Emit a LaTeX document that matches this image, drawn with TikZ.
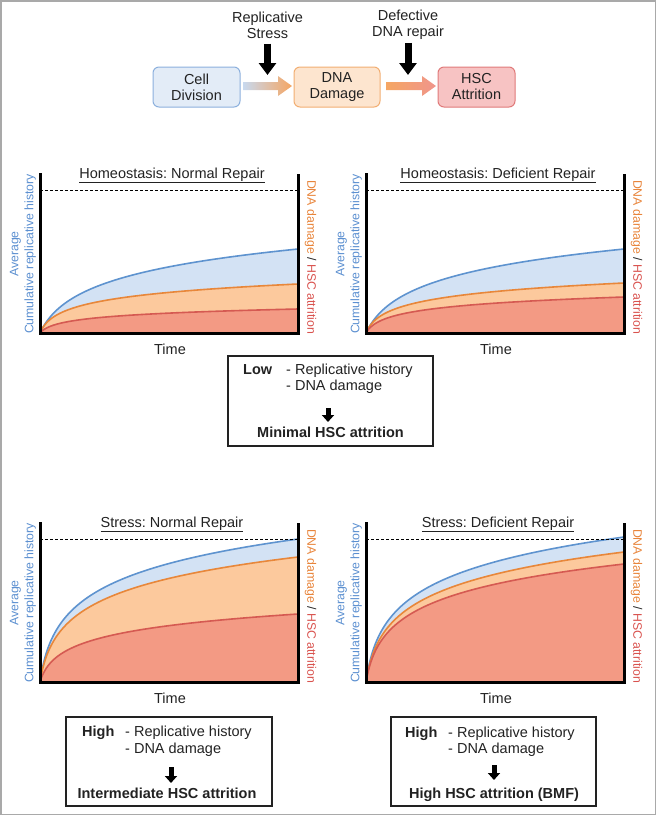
\documentclass[tikz,border=0pt]{standalone}
\usepackage{fontspec}
\setmainfont{Liberation Sans}
\usetikzlibrary{arrows.meta}
\frenchspacing
\definecolor{bline}{HTML}{5E93CF}
\definecolor{bfill}{HTML}{D3E2F4}
\definecolor{oline}{HTML}{E8873A}
\definecolor{ofill}{HTML}{FCC99D}
\definecolor{rline}{HTML}{D55A52}
\definecolor{rfill}{HTML}{F39A84}
\definecolor{txt}{HTML}{222222}
\definecolor{framegray}{HTML}{A9A9A9}
\definecolor{cdfill}{HTML}{E3ECF7}
\definecolor{cddraw}{HTML}{8CB0DD}
\definecolor{ddfill}{HTML}{FDE5CF}
\definecolor{dddraw}{HTML}{F2AE72}
\definecolor{hsfill}{HTML}{F7C3C3}
\definecolor{hsdraw}{HTML}{E07A7A}
\definecolor{ga}{HTML}{C8D9EF}
\definecolor{gb}{HTML}{F5A663}
\definecolor{gc}{HTML}{F0958C}
\definecolor{lblue}{HTML}{5B8FD0}
\definecolor{lorange}{HTML}{E8843A}
\definecolor{lred}{HTML}{D9534F}
\newcommand\myBig{\fontsize{14.5}{16}\selectfont}
\newcommand\mySmall{\fontsize{12.3}{15}\selectfont}
% #1 L, #2 B, #3 name, #4 title, #5 Hb, #6 cb, #7 Ho, #8 Hr
\newcommand\chartpanel[8]{%
  \fill[bfill] (#1,#2) -- plot[domain=0:1,samples=90] ({#1+258*\x*\x},{#2-#5*ln(1+\x*\x/#6)/ln(1+1/#6)}) -- (#1+258,#2) -- cycle;
  \fill[ofill] (#1,#2) -- plot[domain=0:1,samples=90] ({#1+258*\x*\x},{#2-#7*ln(1+\x*\x/0.02)/ln(51)}) -- (#1+258,#2) -- cycle;
  \fill[rfill] (#1,#2) -- plot[domain=0:1,samples=90] ({#1+258*\x*\x},{#2-#8*ln(1+\x*\x/0.02)/ln(51)}) -- (#1+258,#2) -- cycle;
  \draw[curve,bline] plot[domain=0:1,samples=90] ({#1+258*\x*\x},{#2-#5*ln(1+\x*\x/#6)/ln(1+1/#6)});
  \draw[curve,oline] plot[domain=0:1,samples=90] ({#1+258*\x*\x},{#2-#7*ln(1+\x*\x/0.02)/ln(51)});
  \draw[curve,rline] plot[domain=0:1,samples=90] ({#1+258*\x*\x},{#2-#8*ln(1+\x*\x/0.02)/ln(51)});
  \draw[dashline] (#1,#2-143) -- (#1+258,#2-143);
  \draw[axisline] (#1,#2-160) -- (#1,#2) -- (#1+258,#2) -- (#1+258,#2-159);
  \node[titletext,anchor=base] (#3t) at (#1+132,#2-155) {\underline{#4}};
  \node[leftlabel] (#3l) at (#1-17,#2-79) {Average\\Cumulative replicative history};
  \node[rightlabel] (#3r) at (#1+270.5,#2-76) {{\color{lorange}DNA damage} {\color{txt}/} {\color{lred}HSC attrition}};
  \node[titletext] (#3x) at (#1+130,#2+16) {Time};
}
\begin{document}
\begin{tikzpicture}[x=1pt,y=-1pt,
  topbox/.style={rounded corners=6pt, line width=1pt, minimum height=40pt, align=center, inner sep=0pt, font=\myBig, text=txt},
  toplabel/.style={align=center, font=\myBig, inner sep=0pt, text=txt},
  bigdown/.style={line width=7pt, -{Triangle[width=17pt,length=12pt]}},
  smalldown/.style={line width=5pt, -{Triangle[width=12pt,length=7pt]}},
  curve/.style={line width=1.6pt},
  dashline/.style={line width=1pt, dash pattern=on 3pt off 2pt},
  axisline/.style={line width=3pt, line join=miter},
  titletext/.style={font=\myBig, text=txt, inner sep=0pt},
  leftlabel/.style={rotate=90, align=center, font=\mySmall, text=lblue, inner sep=0pt},
  rightlabel/.style={rotate=-90, font=\mySmall, inner sep=0pt},
  sumbox/.style={draw=txt, line width=1.2pt, inner sep=0pt},
  btext/.style={font=\myBig, text=txt, inner sep=0pt, anchor=base west},
  bres/.style={font=\myBig\bfseries, text=txt, inner sep=0pt, anchor=base}
]
\useasboundingbox (0,0) rectangle (656,815);
\draw[framegray, line width=1.5pt] (0.75,0.75) rectangle (655.25,814.25);

% top flow
\node[topbox, fill=cdfill, draw=cddraw, minimum width=87pt] (cd) at (196.5,87) {Cell\\Division};
\node[topbox, fill=ddfill, draw=dddraw, minimum width=86pt] (dd) at (337,87) {DNA\\Damage};
\node[topbox, fill=hsfill, draw=hsdraw, minimum width=77pt] (hs) at (476.5,87) {HSC\\Attrition};
\shade[left color=ga, right color=gb] (243,82) -- (278,82) -- (278,76) -- (292,86) -- (278,96) -- (278,90) -- (243,90) -- cycle;
\shade[left color=gb, right color=gc] (386,82) -- (422,82) -- (422,76) -- (436,86) -- (422,96) -- (422,90) -- (386,90) -- cycle;
\node[toplabel] (rs) at (267.5,25) {Replicative\\Stress};
\node[toplabel] (dr) at (408,25) {Defective\\DNA repair};
\coordinate (rstip) at (267.5,75);
\coordinate (drtip) at (408,75);
\draw[bigdown, shorten <=5pt] (rs.south) -- (rstip);
\draw[bigdown, shorten <=3pt] (dr.south) -- (drtip);

% charts
\chartpanel{40}{333}{ha}{Homeostasis: Normal Repair}{84}{0.05}{49}{24}
\chartpanel{366}{333}{hb}{Homeostasis: Deficient Repair}{84}{0.05}{50}{36}
\chartpanel{40}{682}{sa}{Stress: Normal Repair}{143}{0.02}{125}{68}
\chartpanel{366}{682}{sb}{Stress: Deficient Repair}{145}{0.02}{130}{118}

% summary boxes
\node[sumbox, minimum width=205pt, minimum height=90pt] (lowbox) at (330.5,401) {};
\node[btext] (lowl) at (243,374) {\textbf{Low}};
\node[btext] (lowa) at (286,374) {- Replicative history};
\node[btext] (lowb) at (286,390) {- DNA damage};
\coordinate (lowt) at (328,408);
\coordinate (lowh) at (328,422);
\draw[smalldown] (lowt) -- (lowh);
\node[bres] (lowr) at (330.5,437) {Minimal HSC attrition};

\node[sumbox, minimum width=206pt, minimum height=89pt] (sabox) at (169,761.5) {};
\node[btext] (sal) at (82,736) {\textbf{High}};
\node[btext] (saa) at (125,736) {- Replicative history};
\node[btext] (sab) at (125,753) {- DNA damage};
\coordinate (sat) at (171,767);
\coordinate (sah) at (171,783);
\draw[smalldown] (sat) -- (sah);
\node[bres] (sar) at (167,798) {Intermediate HSC attrition};

\node[sumbox, minimum width=205pt, minimum height=89pt] (sbbox) at (493.5,761.5) {};
\node[btext] (sbl) at (405,737) {\textbf{High}};
\node[btext] (sba) at (448,737) {- Replicative history};
\node[btext] (sbb) at (448,753) {- DNA damage};
\coordinate (sbt) at (494,765);
\coordinate (sbh) at (494,780);
\draw[smalldown] (sbt) -- (sbh);
\node[bres] (sbr) at (494,798) {High HSC attrition (BMF)};
\end{tikzpicture}
\end{document}
